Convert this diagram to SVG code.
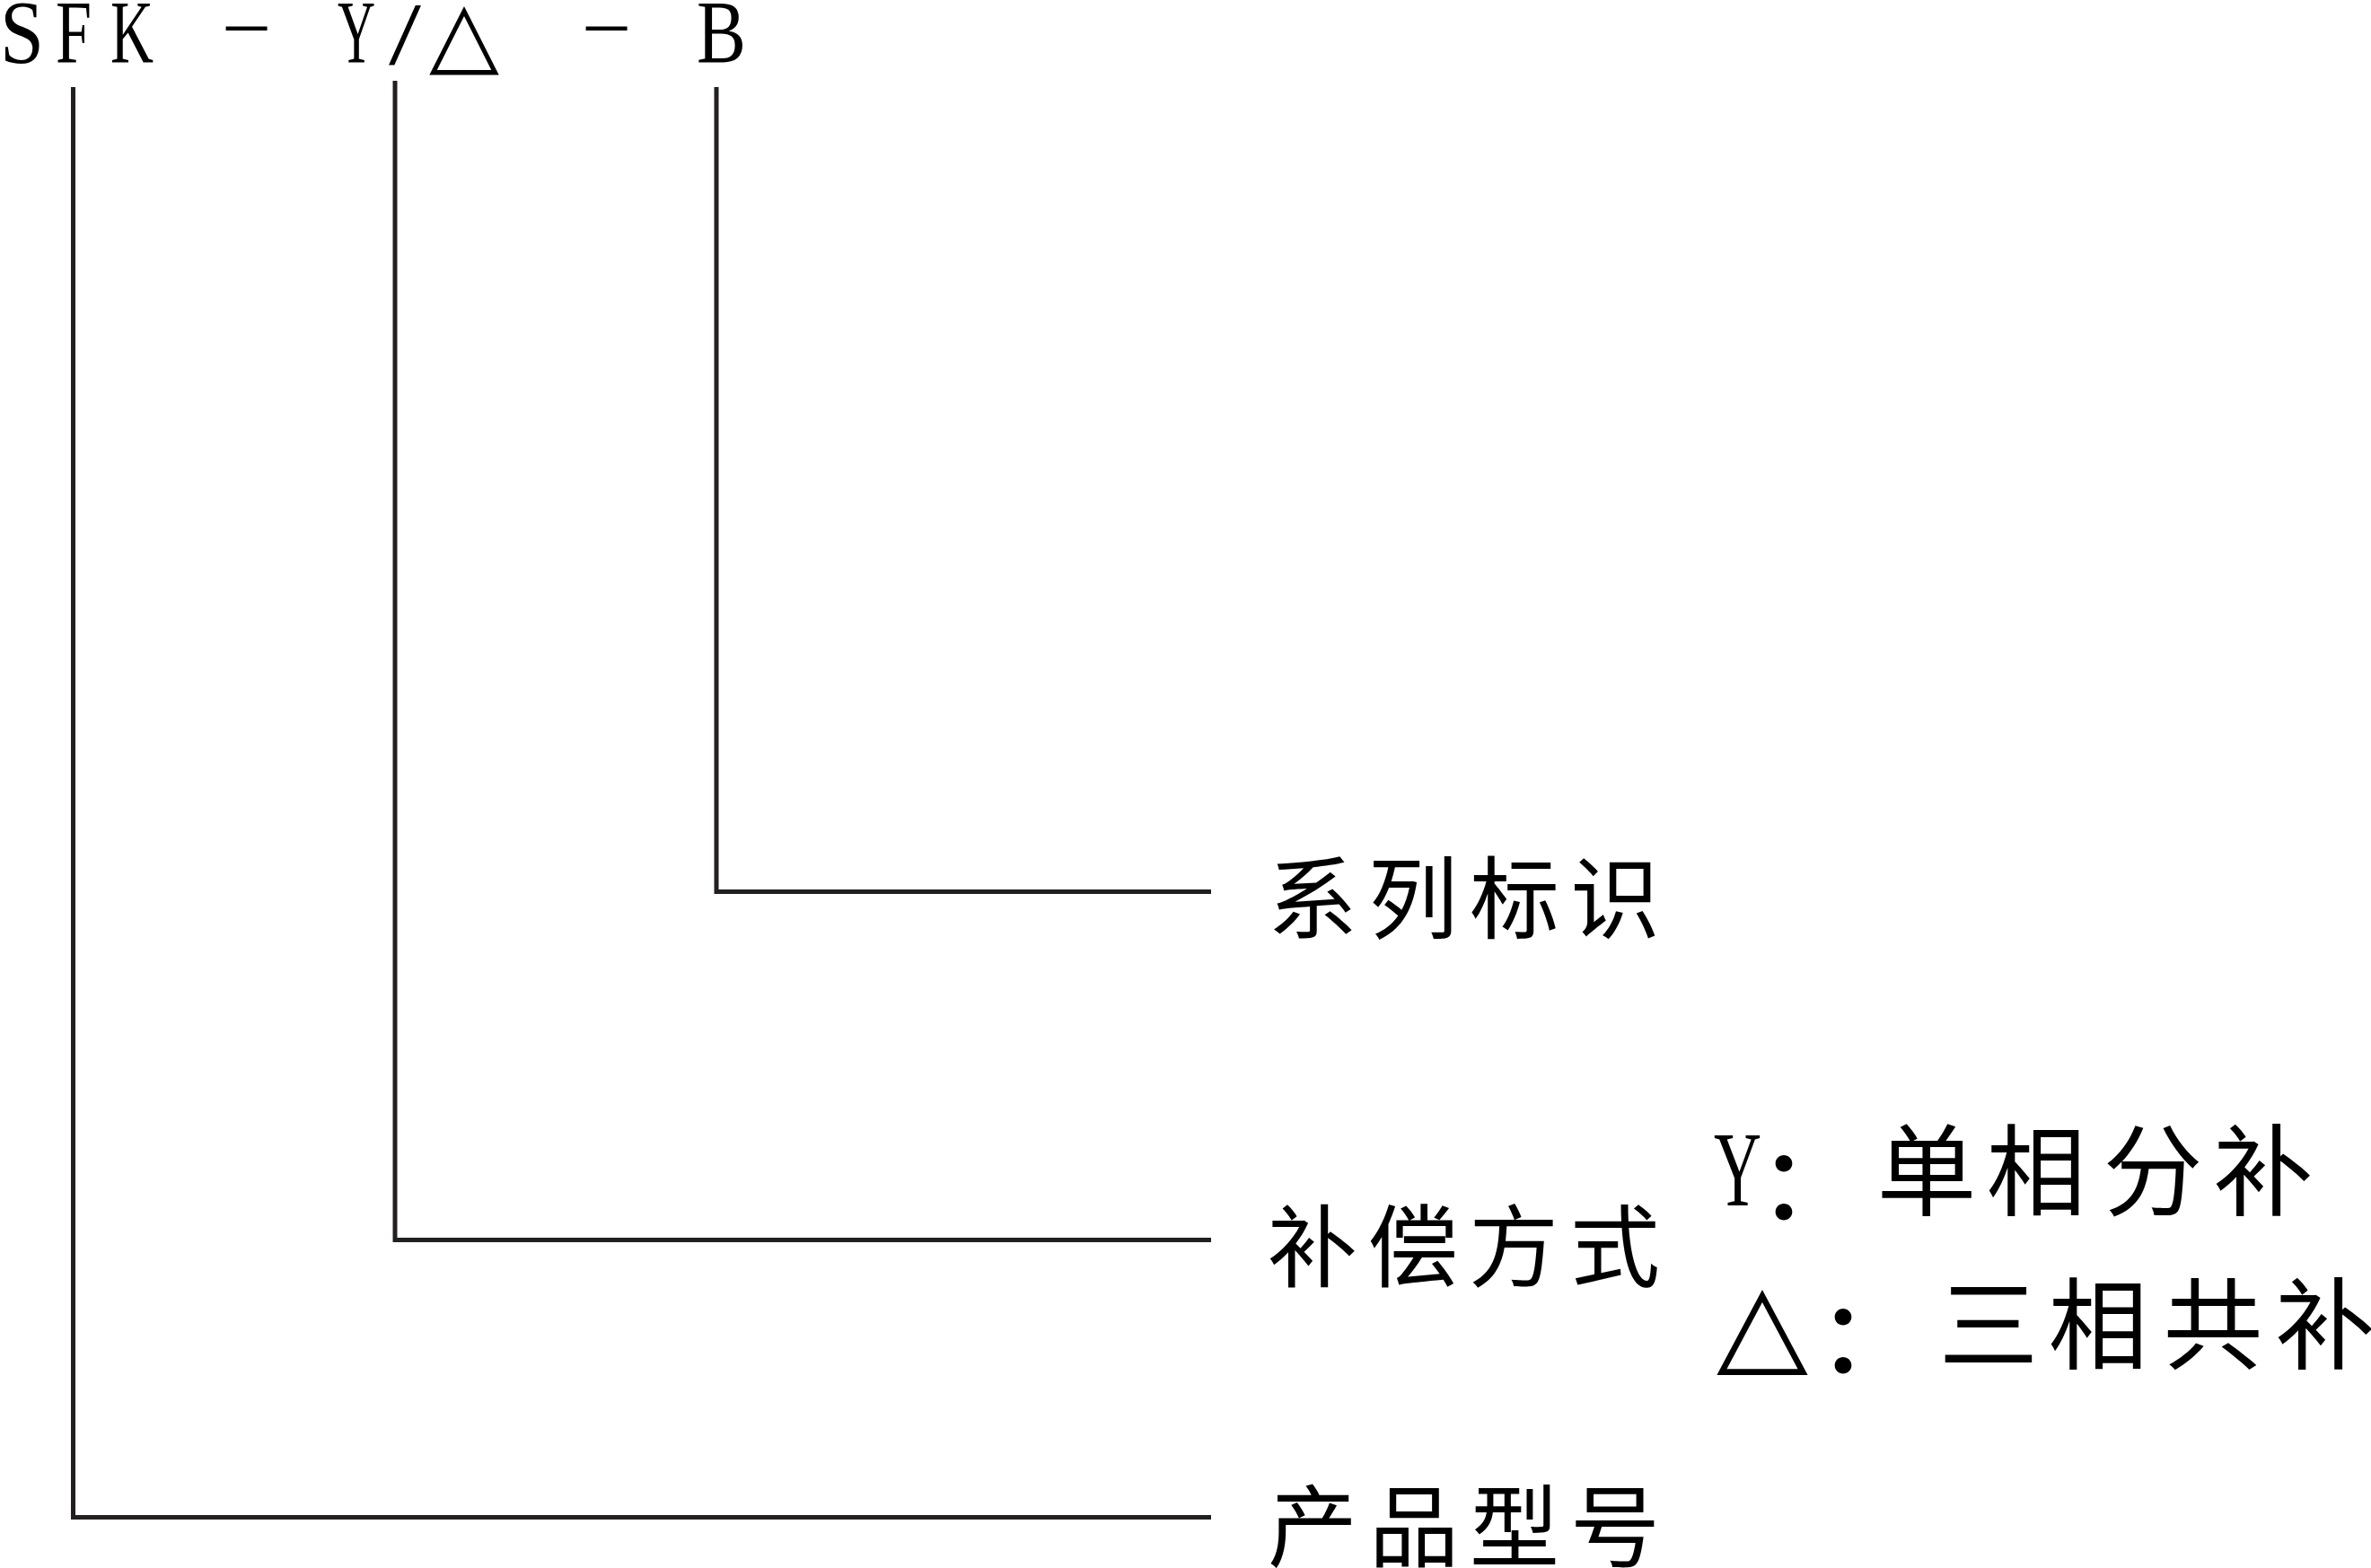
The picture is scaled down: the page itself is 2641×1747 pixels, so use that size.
<svg xmlns="http://www.w3.org/2000/svg" width="2641" height="1747" viewBox="0 0 2641 1747">
<style>
.lat{font-family:"Liberation Serif","DejaVu Serif",serif;fill:#000}
.sym{font-family:"DejaVu Sans",sans-serif;fill:#000}
.cjk{font-family:"Noto Sans CJK SC","Noto Sans CJK JP",sans-serif;font-weight:400;fill:#000;text-anchor:middle}
.col{font-family:"Noto Sans CJK JP","Noto Sans CJK SC",sans-serif;font-weight:500;fill:#000;text-anchor:middle}
.ln{fill:none;stroke:#231f20;stroke-width:5;stroke-linejoin:miter;stroke-linecap:butt}
</style>
<rect width="2641" height="1747" fill="#fff"/>
<g id="code">
<text class="lat" font-size="100" x="0" y="69" textLength="49" lengthAdjust="spacingAndGlyphs">S</text>
<text class="lat" font-size="100" x="62" y="69" textLength="40" lengthAdjust="spacingAndGlyphs">F</text>
<text class="lat" font-size="100" x="123" y="69" textLength="48" lengthAdjust="spacingAndGlyphs">K</text>
<text class="lat" font-size="60" x="245" y="46" textLength="59" lengthAdjust="spacingAndGlyphs">-</text>
<text class="lat" font-size="100" x="376" y="69" textLength="42" lengthAdjust="spacingAndGlyphs">Y</text>
<text class="lat" font-size="100" x="433" y="71" textLength="36" lengthAdjust="spacingAndGlyphs">/</text>
<text class="sym" font-size="100" x="478" y="71" textLength="78" lengthAdjust="spacingAndGlyphs">△</text>
<text class="lat" font-size="60" x="646" y="46" textLength="59" lengthAdjust="spacingAndGlyphs">-</text>
<text class="lat" font-size="100" x="776" y="69" textLength="55" lengthAdjust="spacingAndGlyphs">B</text>
</g>
<g id="connectors">
<path class="ln" d="M81.5,97 V1690.5 H1349"/>
<path class="ln" d="M440,90 V1381.5 H1349"/>
<path class="ln" d="M798,97 V993.5 H1349"/>
</g>
<g id="label-series">
<text class="cjk" font-size="100" x="1462 1574 1687 1799" y="1038">系列标识</text>
</g>
<g id="label-compensation">
<text class="cjk" font-size="100" x="1462 1574 1686 1799" y="1426">补偿方式</text>
</g>
<g id="label-model">
<text class="cjk" font-size="100" x="1462 1575 1687 1799" y="1738">产品型号</text>
</g>
<g id="option-y">
<text class="lat" font-size="118" x="1909" y="1343" textLength="53" lengthAdjust="spacingAndGlyphs">Y</text>
<text class="col" font-size="111" x="1987" y="1365">：</text>
<text class="cjk" font-size="111" x="2146 2268 2398 2521" y="1346">单相分补</text>
</g>
<g id="option-delta">
<text class="sym" font-size="124" x="1912" y="1517" textLength="102" lengthAdjust="spacingAndGlyphs">△</text>
<text class="col" font-size="111" x="2053" y="1536">：</text>
<text class="cjk" font-size="111" x="2215 2337 2465 2590" y="1517">三相共补</text>
</g>
</svg>
